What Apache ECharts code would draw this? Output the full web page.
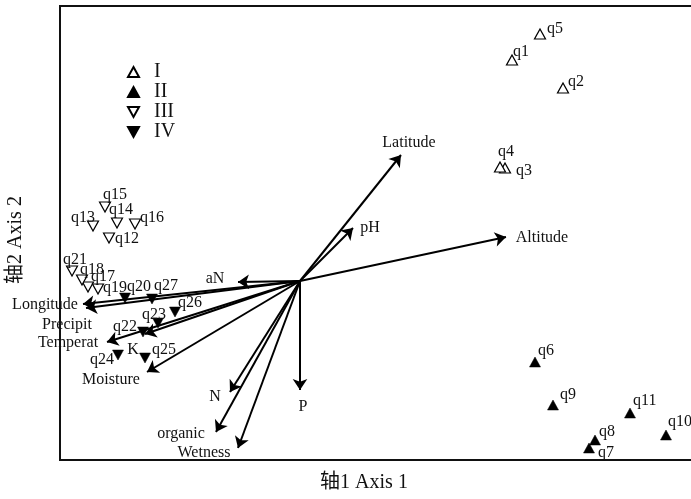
<!DOCTYPE html>
<html>
<head>
<meta charset="utf-8">
<script src="https://cdn.jsdelivr.net/npm/echarts@6/dist/echarts.min.js"></script>
<style>
  html, body { margin: 0; padding: 0; background: #fff; }
  #chart { width: 691px; height: 499px; }
</style>
</head>
<body>
<div id="chart"></div>
<script>
// Site scores on ordination axes 1 and 2, by community type
const sitesI = ['q1', 'q2', 'q3', 'q4', 'q5'];
const axis1I = [2.12, 2.63, 2.05, 2.00, 2.40];
const axis2I = [2.21, 1.93, 1.13, 1.14, 2.47];

const sitesII = ['q6', 'q7', 'q8', 'q9', 'q10', 'q11'];
const axis1II = [2.35, 2.89, 2.95, 2.53, 3.66, 3.30];
const axis2II = [-0.81, -1.67, -1.59, -1.24, -1.54, -1.32];

const sitesIII = ['q12', 'q13', 'q14', 'q15', 'q16', 'q17', 'q18', 'q19', 'q21'];
const axis1III = [-1.91, -2.07, -1.83, -1.95, -1.65, -2.12, -2.18, -2.02, -2.28];
const axis2III = [0.43, 0.55, 0.58, 0.74, 0.57, -0.06, 0.01, -0.08, 0.10];

const sitesIV = ['q20', 'q22', 'q23', 'q24', 'q25', 'q26', 'q27'];
const axis1IV = [-1.75, -1.57, -1.42, -1.82, -1.55, -1.25, -1.48];
const axis2IV = [-0.17, -0.51, -0.42, -0.74, -0.77, -0.31, -0.18];

// Environmental factor vectors (biplot arrows from the origin)
const factors = ['Latitude', 'pH', 'Altitude', 'aN', 'Longitude', 'Precipit', 'Temperat', 'K', 'Moisture', 'N', 'organic', 'Wetness', 'P'];
const factorAxis1 = [1.01, 0.53, 2.06, -0.62, -2.17, -2.14, -1.93, -1.55, -1.53, -0.70, -0.84, -0.62, 0.00];
const factorAxis2 = [1.26, 0.53, 0.44, -0.01, -0.23, -0.27, -0.61, -0.53, -0.91, -1.11, -1.51, -1.67, -1.09];

const groupNames = ['I', 'II', 'III', 'IV'];
const axisTitleX = '轴1 Axis 1';
const axisTitleY = '轴2 Axis 2';

// Label placement (pixel shifts), kept apart from the data
const siteLabelShift = {
  q1: [1, -8], q5: [7, -5], q2: [5, -6], q4: [-2, -15], q3: [11, 3],
  q6: [3, -11], q9: [7, -10], q11: [3, -12], q10: [2, -13], q8: [4, -8], q7: [9, 5],
  q15: [-2, -12], q14: [-8, -13], q13: [-22, -8], q16: [5, -6], q12: [6, 1],
  q21: [-9, -11], q18: [-2, -10], q17: [3, -10], q19: [5, -1],
  q20: [2, -11], q27: [2, -13], q26: [3, -9], q23: [-16, -8], q22: [-30, -5], q24: [-28, 5], q25: [7, -8]
};
const factorLabelShift = {
  aN: [-23, -3], Longitude: [-38, 1], Precipit: [-19, 17], Temperat: [-39, 1], K: [-12, 16],
  Moisture: [-36, 8], N: [-15, 5], organic: [-35, 2], Wetness: [-34, 5], P: [3, 17],
  Latitude: [8, -12], pH: [17, 0], Altitude: [36, 1]
};

const SERIF = '"Liberation Serif", "DejaVu Serif", serif';
const INK = '#000';
const TEXT = '#111';
const DOWN_TRI = 'path://M0,0L10,0L5,9Z';

function sitePoints(names, xs, ys) {
  return names.map((n, i) => ({
    name: n,
    value: [xs[i], ys[i]],
    label: { offset: siteLabelShift[n] || [6, -8] }
  }));
}

function siteSeries(name, names, xs, ys, symbol, filled) {
  return {
    name: name,
    type: 'scatter',
    z: 5,
    symbol: symbol,
    symbolSize: [11, 10],
    itemStyle: filled
      ? { color: INK, borderColor: INK, borderWidth: 0.5, opacity: 1 }
      : { color: '#fff', borderColor: INK, borderWidth: 1.2, opacity: 1 },
    label: {
      show: true,
      position: 'inside',
      align: 'left',
      verticalAlign: 'middle',
      formatter: '{b}',
      color: TEXT,
      fontFamily: SERIF,
      fontSize: 16
    },
    emphasis: { disabled: true },
    data: sitePoints(names, xs, ys)
  };
}

const chart = echarts.init(document.getElementById('chart'), null, { renderer: 'canvas' });

chart.setOption({
  backgroundColor: '#fff',
  animation: false,
  grid: {
    show: true,
    left: 60,
    top: 6,
    width: 650,
    height: 454,
    outerBoundsMode: 'none',
    containLabel: false,
    borderColor: '#111',
    borderWidth: 2,
    backgroundColor: 'transparent'
  },
  xAxis: {
    type: 'value', min: -2.4, max: 4.1,
    axisLine: { show: false }, axisTick: { show: false },
    axisLabel: { show: false }, splitLine: { show: false }
  },
  yAxis: {
    type: 'value', min: -1.79, max: 2.75,
    axisLine: { show: false }, axisTick: { show: false },
    axisLabel: { show: false }, splitLine: { show: false }
  },
  legend: {
    data: groupNames,
    orient: 'vertical',
    left: 122,
    top: 57,
    itemWidth: 11,
    itemHeight: 10,
    itemGap: 0,
    selectedMode: false,
    textStyle: {
      fontFamily: SERIF,
      fontSize: 20,
      lineHeight: 20,
      color: TEXT,
      padding: [0, 0, 0, 10]
    }
  },
  graphic: [
    {
      type: 'text', x: 364, y: 483,
      style: {
        text: axisTitleX, x: 0, y: 0, align: 'center', verticalAlign: 'middle',
        font: '20px "Liberation Serif", "Noto Sans CJK SC", serif', fill: TEXT
      }
    },
    {
      type: 'text', x: 16, y: 240, rotation: Math.PI / 2,
      style: {
        text: axisTitleY, x: 0, y: 0, align: 'center', verticalAlign: 'middle',
        font: '20px "Liberation Serif", "Noto Sans CJK SC", serif', fill: TEXT
      }
    }
  ],
  series: [
    {
      name: 'factors',
      type: 'lines',
      coordinateSystem: 'cartesian2d',
      z: 2,
      symbol: ['none', 'arrow'],
      symbolSize: 11,
      lineStyle: { color: INK, width: 2, opacity: 1, curveness: 0 },
      emphasis: { disabled: true },
      data: factors.map((f, i) => ({ name: f, coords: [[0, 0], [factorAxis1[i], factorAxis2[i]]] }))
    },
    {
      name: 'factorLabels',
      type: 'scatter',
      z: 4,
      symbolSize: 0,
      silent: true,
      itemStyle: { opacity: 1 },
      label: {
        show: true,
        position: 'inside',
        align: 'center',
        verticalAlign: 'middle',
        formatter: '{b}',
        color: TEXT,
        opacity: 1,
        fontFamily: SERIF,
        fontSize: 16
      },
      data: factors.map((f, i) => ({
        name: f,
        value: [factorAxis1[i], factorAxis2[i]],
        label: { offset: factorLabelShift[f] }
      }))
    },
    siteSeries('I', sitesI, axis1I, axis2I, 'triangle', false),
    siteSeries('II', sitesII, axis1II, axis2II, 'triangle', true),
    siteSeries('III', sitesIII, axis1III, axis2III, DOWN_TRI, false),
    siteSeries('IV', sitesIV, axis1IV, axis2IV, DOWN_TRI, true)
  ]
});
</script>
</body>
</html>
